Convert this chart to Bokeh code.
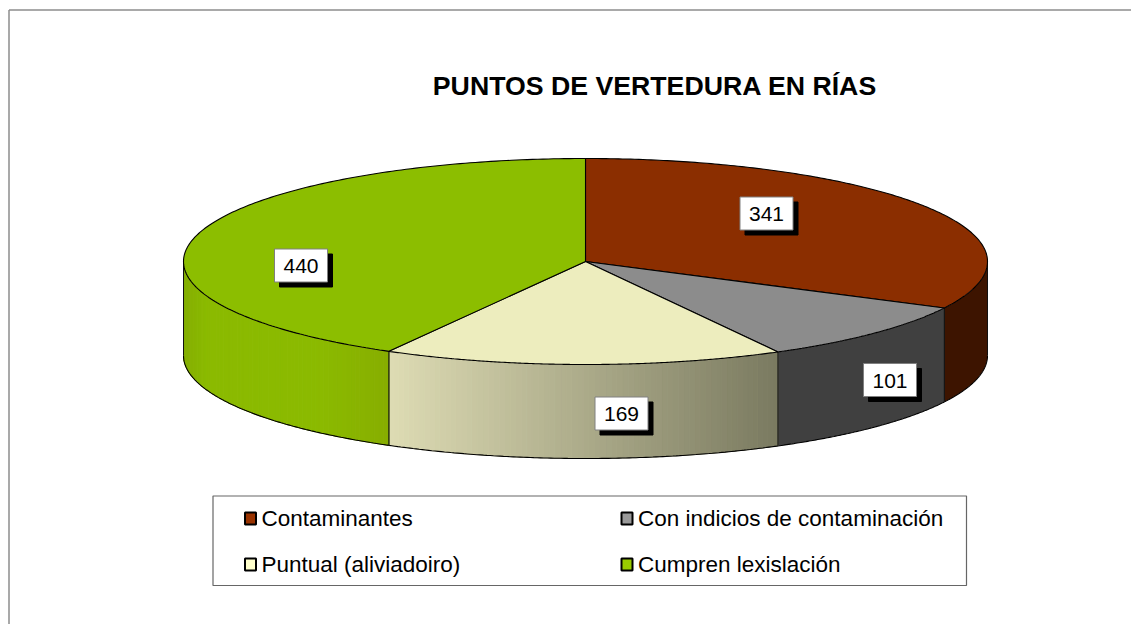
import numpy as np
from bokeh.plotting import figure
from bokeh.embed import file_html
from bokeh.resources import INLINE
from bokeh.core.properties import value

title_text = "PUNTOS DE VERTEDURA EN RÍAS"
categories = ["Contaminantes", "Con indicios de contaminación", "Puntual (aliviadoiro)", "Cumpren lexislación"]
values = [341, 101, 169, 440]
top_colors = ["#8B2E00", "#8C8C8C", "#EDEDBE", "#8CBE00"]
legend_colors = ["#993300", "#999999", "#FFFFCC", "#99CC00"]

# layout (page pixels)
CX, CY, RX, RY, DEPTH = 585, 261, 402, 103, 94
label_centers = [(766, 213), (889.5, 379.5), (621, 413), (300.5, 265)]
BOX_W, BOX_H, SHADOW = 53, 33, 5
legend_box = (212.5, 966, 495.5, 585)
legend_slots = [(243.5, 518), (620, 518), (243.5, 564), (620, 564)]

# side shading: (x position, colour) stops for each slice
side_stops = [
    [(0, (0x3D, 0x14, 0x00)), (2000, (0x3D, 0x14, 0x00))],
    [(0, (0x40, 0x40, 0x40)), (2000, (0x40, 0x40, 0x40))],
    [(388, (0xDE, 0xDC, 0xB4)), (777, (0x7A, 0x7A, 0x60))],
    [(183, (0x84, 0xAE, 0x00)), (205, (0x8B, 0xBA, 0x00)), (320, (0x8B, 0xBA, 0x00)), (388, (0x87, 0xAE, 0x00))],
]

p = figure(width=1131, height=624, x_range=(0, 1131), y_range=(624, 0),
           output_backend="svg", toolbar_location=None, min_border=0,
           background_fill_color="white", border_fill_color="white")
p.axis.visible = False
p.grid.visible = False
p.outline_line_color = None

# frame
p.multi_line([[8.5, 8.5], [8.5, 1131]], [[624, 9.5], [9.5, 9.5]], line_color="#8C8C8C", line_width=1.5)

total = sum(values)
edges = np.radians(np.cumsum([0] + values) / total * 360.0)

def ex(t):
    return CX + RX * np.sin(t)

def ey(t):
    return CY - RY * np.cos(t)

# side walls
FRONT_A, FRONT_B = np.pi / 2, 3 * np.pi / 2
for i in range(len(values)):
    a, b = max(edges[i], FRONT_A), min(edges[i + 1], FRONT_B)
    if a >= b:
        continue
    stops = side_stops[i]
    if stops[0][1] == stops[-1][1]:
        # flat wall: one polygon, so no seams show
        t = np.linspace(a, b, 120)
        p.patch(np.concatenate([ex(t), ex(t[::-1])]),
                np.concatenate([ey(t), ey(t[::-1]) + DEPTH]),
                fill_color="#%02X%02X%02X" % stops[0][1], line_color=None)
    else:
        n = max(2, int((b - a) / np.radians(0.8)))
        ts = np.linspace(a, b, n + 1)
        xs, ys, cols = [], [], []
        sx = [s[0] for s in stops]
        for t0, t1 in zip(ts[:-1], ts[1:]):
            xs.append([ex(t0), ex(t1), ex(t1), ex(t0)])
            ys.append([ey(t0), ey(t1), ey(t1) + DEPTH, ey(t0) + DEPTH])
            xm = ex((t0 + t1) / 2)
            rgb = [int(round(np.interp(xm, sx, [s[1][c] for s in stops]))) for c in range(3)]
            cols.append("#%02X%02X%02X" % tuple(rgb))
        p.patches(xs, ys, fill_color=cols, line_color=cols, line_width=1)
    # lower arc, edges
    t = np.linspace(a, b, 120)
    p.line(ex(t), ey(t) + DEPTH, line_color="black", line_width=1.1)
    p.line([ex(a), ex(a)], [ey(a), ey(a) + DEPTH], line_color="#111111", line_width=1)
    p.line([ex(b), ex(b)], [ey(b), ey(b) + DEPTH], line_color="#111111", line_width=1)

# top wedges
for i in range(len(values)):
    t = np.linspace(edges[i], edges[i + 1], 200)
    xs = np.concatenate([[CX], ex(t)])
    ys = np.concatenate([[CY], ey(t)])
    p.patch(xs, ys, fill_color=top_colors[i], line_color="black", line_width=1.1)

# data labels
for v, (lx, ly) in zip(values, label_centers):
    p.quad(left=lx - BOX_W / 2 + SHADOW, right=lx + BOX_W / 2 + SHADOW,
           top=ly - BOX_H / 2 + SHADOW, bottom=ly + BOX_H / 2 + SHADOW,
           fill_color="black", line_color="black", line_width=1)
    p.quad(left=lx - BOX_W / 2, right=lx + BOX_W / 2, top=ly - BOX_H / 2, bottom=ly + BOX_H / 2,
           fill_color="white", line_color="#808080", line_width=1)
    p.text([lx], [ly + 0.5], text=[str(v)], text_font=value("Liberation Sans"), text_font_size="21px",
           text_align="center", text_baseline="middle", text_color="black")

# title
p.text([654.5], [85], text=[title_text], text_font=value("Liberation Sans"), text_font_size="26.7px",
       text_font_style="bold", text_align="center", text_baseline="middle", text_color="black")

# legend
l, r, t_, b_ = legend_box
p.quad(left=l, right=r, top=t_, bottom=b_, fill_color="white", line_color="#666666", line_width=1.2)
for name, col, (mx, my) in zip(categories, legend_colors, legend_slots):
    p.quad(left=mx + 1, right=mx + 12, top=my - 6, bottom=my + 6, fill_color=col, line_color="black", line_width=2)
    p.text([mx + 17.5], [my - 0.5], text=[name], text_font=value("Liberation Sans"), text_font_size="22.5px",
           text_align="left", text_baseline="middle", text_color="black")

open("out.html", "w").write(file_html(p, INLINE))
